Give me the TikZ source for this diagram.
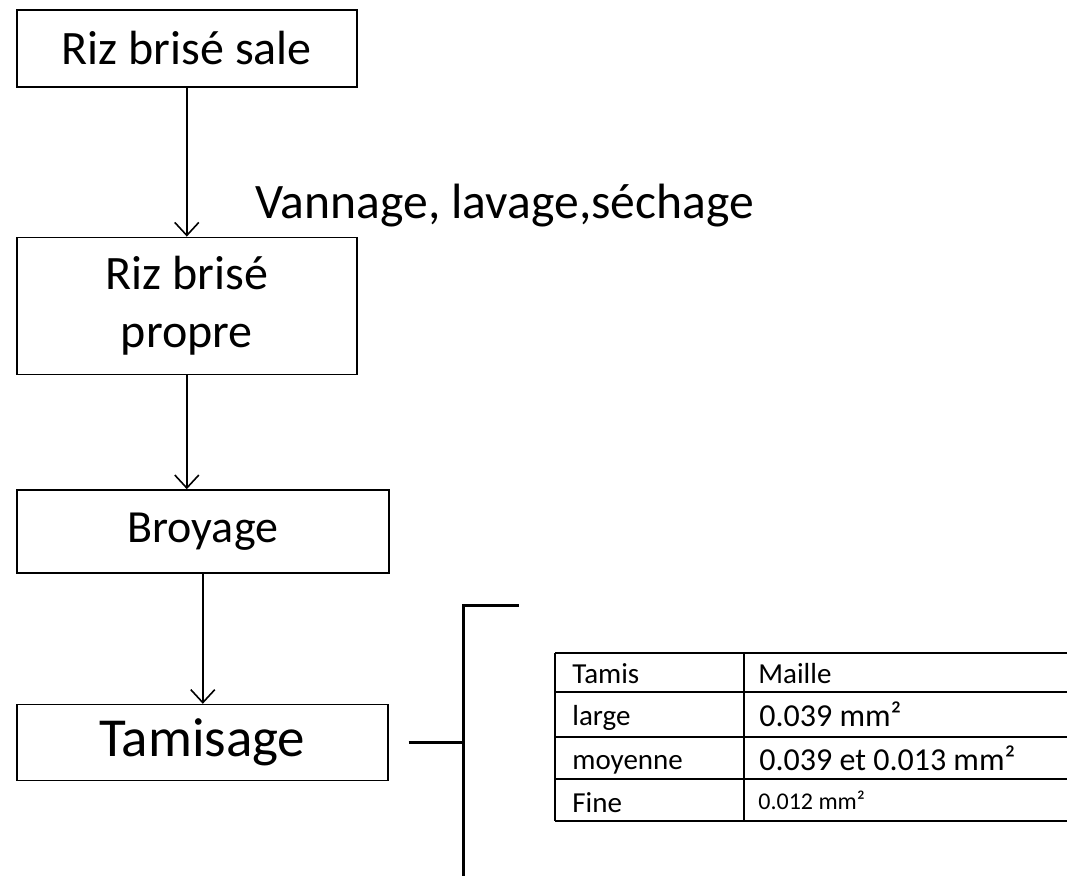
\documentclass[tikz,border=0pt]{standalone}
\usepackage{fontspec}
\setmainfont{Carlito}
\usetikzlibrary{positioning, arrows.meta, calc}

\begin{document}
\begin{tikzpicture}[x=0.5pt, y=-0.5pt,
        block/.style  = {rectangle, draw, line width=0.8pt, inner sep=0pt, align=center,
                         font=\fontsize{24}{29}\selectfont},
        % arrows between the steps
        arrow/.style  = {draw, line width=0.8pt, -{Straight Barb[length=6.5pt, width=12pt, line width=0.8pt]}},
        % bracket and table lines
        bracket/.style = {line width=1.5pt},
        grid/.style   = {line width=1.2pt},
        cell/.style   = {anchor=base west, inner sep=0pt, font=\fontsize{14.5}{16}\selectfont},
        cellbig/.style = {cell, font=\fontsize{16}{18}\selectfont},
        cellsmall/.style = {cell, font=\fontsize{12}{14}\selectfont}
    ]
    \useasboundingbox (0,0) rectangle (1067,875);
    \clip (0,0) rectangle (1067,875);

    % --- Steps ---
    \node[block, minimum width=170pt, minimum height=38.5pt, anchor=north west] (sale) at (16,9) {Riz brisé sale};
    \node[block, minimum width=170pt, minimum height=68.5pt, below=74.5pt of sale] (propre) {Riz brisé\\propre};
    \node[block, minimum width=186pt, minimum height=41.5pt, below=57pt of propre.south west, anchor=north west,
          font=\fontsize{23}{27}\selectfont] (broyage) {Broyage};
    \node[block, minimum width=185.5pt, minimum height=38pt, below=65pt of broyage.south west, anchor=north west,
          font=\fontsize{27.5}{30}\selectfont] (tamisage) {Tamisage};

    \node[anchor=west, inner sep=0pt, font=\fontsize{24.8}{28}\selectfont] (vannage) at (255,206) {Vannage, lavage,séchage};

    % Arrows
    \draw[arrow] (sale) -- (propre);
    \draw[arrow] (propre.south) -- (propre.south |- broyage.north);
    \draw[arrow] (broyage.south) -- (broyage.south |- tamisage.north);

    % --- Bracket ---
    \coordinate[right=10pt of tamisage.east] (br_in);
    \coordinate (br_mid) at ($(br_in)+(55,0)$);
    \draw[bracket] (br_in) -- (br_mid);
    \draw[bracket] (br_mid |- 0,880) -- (br_mid |- 0,605) -- ++(55,0);

    % --- Table of sieves ---
    \foreach \y in {653,692,737,779,821}
        \draw[grid] (555,\y) -- (1080,\y);
    \foreach \x in {555,744}
        \draw[grid] (\x,653) -- (\x,821);

    \node[cell] (tamis) at (572,683) {Tamis};
    \node[cell] (maille) at (758,683) {Maille};
    \node[cell] (large) at (572,725) {large};
    \node[cellbig] (m_large) at (759,726) {0.039 mm²};
    \node[cell] (moyenne) at (572,769) {moyenne};
    \node[cellbig] (m_moyenne) at (759,770) {0.039 et 0.013 mm²};
    \node[cell] (fine) at (572,812) {Fine};
    \node[cellsmall] (m_fine) at (758,809) {0.012 mm²};

\end{tikzpicture}
\end{document}
